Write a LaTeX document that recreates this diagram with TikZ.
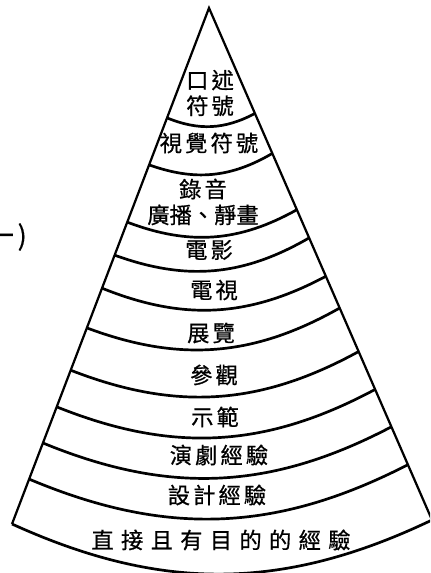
\documentclass[tikz,border=0pt]{standalone}
\usepackage{fontspec}
\newfontfamily\cjk[LetterSpace=14,FakeBold=0.7]{Noto Sans CJK TC}
\usetikzlibrary{calc}

\begin{document}
\begin{tikzpicture}[
  x=0.3mm,y=0.3mm,
  side/.style={line width=1.9pt,black},
  band/.style={line width=2.3pt,black},
  lbl/.style={font=\cjk\fontsize{19}{22}\selectfont,inner sep=0pt,align=center},
  wide/.style={font=\cjk\fontsize{19}{22}\selectfont\addfontfeatures{LetterSpace=33},inner sep=0pt}
]
  \clip (0,0) rectangle (430,573);
  \coordinate (top) at (209,565);
  \coordinate (bl) at (12,49);
  \coordinate (br) at (432,53);

  \draw[side] (bl) -- (top) -- (br);
  \draw[band] ($(top)!0.213!(bl)$) to[bend right=25] ($(top)!0.206!(br)$);
  \draw[band] ($(top)!0.304!(bl)$) to[bend right=25] ($(top)!0.284!(br)$);
  \draw[band] ($(top)!0.415!(bl)$) to[bend right=25] ($(top)!0.394!(br)$);
  \draw[band] ($(top)!0.479!(bl)$) to[bend right=25] ($(top)!0.449!(br)$);
  \draw[band] ($(top)!0.543!(bl)$) to[bend right=25] ($(top)!0.524!(br)$);
  \draw[band] ($(top)!0.620!(bl)$) to[bend right=25] ($(top)!0.586!(br)$);
  \draw[band] ($(top)!0.702!(bl)$) to[bend right=25] ($(top)!0.671!(br)$);
  \draw[band] ($(top)!0.773!(bl)$) to[bend right=25] ($(top)!0.745!(br)$);
  \draw[band] ($(top)!0.843!(bl)$) to[bend right=25] ($(top)!0.818!(br)$);
  \draw[band] ($(top)!0.913!(bl)$) to[bend right=25] ($(top)!0.892!(br)$);
  \draw[band] (bl) to[bend right=25] (br);

  \node[lbl] (oral) at (210,480) {口述\\符號};
  \node[lbl] (visual) at (209,430) {視覺符號};
  \node[lbl] (record) at (203,371) {錄音\\\addfontfeatures{LetterSpace=0}廣播、靜畫};
  \node[lbl] (film) at (209,323) {電影};
  \node[lbl] (tv) at (214,283) {電視};
  \node[lbl] (exhibit) at (211,240) {展覽};
  \node[lbl] (trip) at (214,198) {參觀};
  \node[lbl] (demo) at (215,156) {示範};
  \node[lbl] (drama) at (219,118) {演劇經驗};
  \node[lbl] (design) at (217,78) {設計經驗};
  \node[wide] (direct) at (221,33) {直接且有目的的經驗};
  \node[font=\cjk\fontsize{23}{25}\selectfont,inner sep=0pt,anchor=east] (num) at (27,336) {(一)};
\end{tikzpicture}
\end{document}
